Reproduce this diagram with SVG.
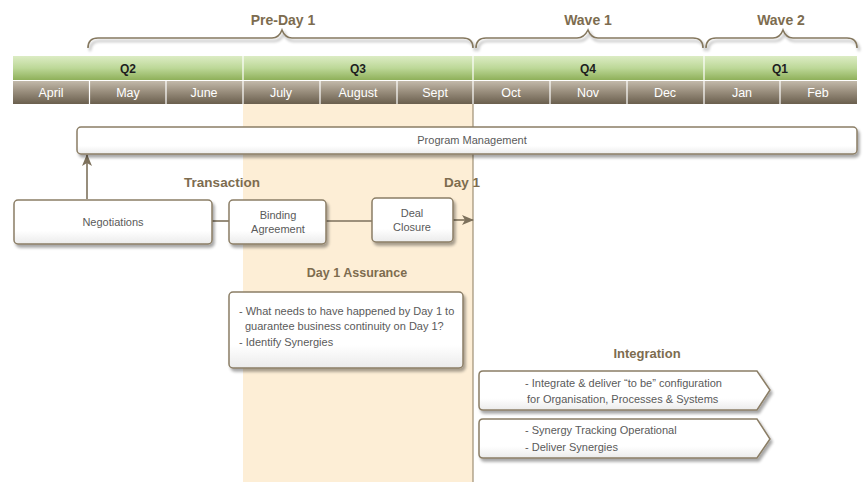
<svg xmlns="http://www.w3.org/2000/svg" width="867" height="483" viewBox="0 0 867 483">
<defs>
<linearGradient id="gGreen" x1="0" y1="0" x2="0" y2="1">
<stop offset="0" stop-color="#dcecc4"/><stop offset="0.5" stop-color="#bdd898"/><stop offset="1" stop-color="#8fb05a"/>
</linearGradient>
<linearGradient id="gMonth" x1="0" y1="0" x2="0" y2="1">
<stop offset="0" stop-color="#c2b9aa"/><stop offset="0.45" stop-color="#9a8f7e"/><stop offset="1" stop-color="#6a5f4e"/>
</linearGradient>
<linearGradient id="gBox" x1="0" y1="0" x2="0" y2="1">
<stop offset="0" stop-color="#ffffff"/><stop offset="0.7" stop-color="#ffffff"/><stop offset="1" stop-color="#ebebeb"/>
</linearGradient>
<filter id="sh" x="-10%" y="-30%" width="120%" height="160%">
<feGaussianBlur in="SourceAlpha" stdDeviation="1.6"/>
<feOffset dx="2" dy="2.5" result="b"/>
<feComponentTransfer><feFuncA type="linear" slope="0.35"/></feComponentTransfer>
<feMerge><feMergeNode/><feMergeNode in="SourceGraphic"/></feMerge>
</filter>
<marker id="arr" viewBox="0 0 12 10" refX="11" refY="5" markerWidth="12" markerHeight="10" markerUnits="userSpaceOnUse" orient="auto">
<path d="M0,0 L12,5 L0,10 L3,5 Z" fill="#7d715c"/>
</marker>
<style>
.lbl{font-family:"Liberation Sans",Arial,sans-serif;font-weight:bold;fill:#7d6c4f;text-anchor:middle}
.q{font-family:"Liberation Sans",Arial,sans-serif;font-weight:bold;font-size:12px;fill:#1e1e1e;text-anchor:middle}
.m{font-family:"Liberation Sans",Arial,sans-serif;font-size:12.5px;fill:#ffffff;text-anchor:middle}
.box{fill:url(#gBox);stroke:#8b7e66;stroke-width:1.5}
.t{font-family:"Liberation Sans",Arial,sans-serif;font-size:11px;fill:#5a5a5a}
.tc{text-anchor:middle}
.brace{fill:none;stroke:#85785f;stroke-width:1.6}
.conn{fill:none;stroke:#7d715c;stroke-width:1.6}
</style>
</defs>
<rect x="0" y="0" width="867" height="483" fill="#ffffff"/>

<!-- Day 1 column -->
<rect x="243" y="104" width="230" height="378" fill="#fdeed6"/>
<line x1="473" y1="104" x2="473" y2="482" stroke="#9e8f74" stroke-width="1.2"/>

<!-- Braces -->
<g id="braces" filter="url(#sh)">
<path class="brace" d="M88,48 Q88,38 98,38 L272,38 Q279,38 282,30 Q285,38 292,38 L463,38 Q473,38 473,48"/>
<path class="brace" d="M476,48 Q476,38 486,38 L577,38 Q584,38 588,30 Q591,38 598,38 L693,38 Q703,38 703,48"/>
<path class="brace" d="M706,48 Q706,38 716,38 L773,38 Q780,38 783,30 Q786,38 793,38 L847,38 Q857,38 857,48"/>
</g>
<text class="lbl" x="283" y="25" font-size="14">Pre-Day 1</text>
<text class="lbl" x="588" y="25" font-size="14">Wave 1</text>
<text class="lbl" x="781" y="25" font-size="14">Wave 2</text>

<!-- Timeline -->
<g id="quarters">
<rect x="13" y="56" width="844" height="24" fill="url(#gGreen)"/>
<g stroke="#ffffff" stroke-width="1.2">
<line x1="243" y1="56" x2="243" y2="80"/><line x1="473" y1="56" x2="473" y2="80"/><line x1="704" y1="56" x2="704" y2="80"/>
</g>
<text class="q" x="128" y="73">Q2</text>
<text class="q" x="358" y="73">Q3</text>
<text class="q" x="588" y="73">Q4</text>
<text class="q" x="780" y="73">Q1</text>
</g>
<g id="months">
<rect x="13" y="81" width="844" height="23" fill="url(#gMonth)"/>
<g stroke="#ffffff" stroke-width="1.2">
<line x1="89.5" y1="81" x2="89.5" y2="104"/><line x1="166" y1="81" x2="166" y2="104"/><line x1="243" y1="81" x2="243" y2="104"/>
<line x1="320" y1="81" x2="320" y2="104"/><line x1="397" y1="81" x2="397" y2="104"/><line x1="473" y1="81" x2="473" y2="104"/>
<line x1="550" y1="81" x2="550" y2="104"/><line x1="627" y1="81" x2="627" y2="104"/><line x1="704" y1="81" x2="704" y2="104"/>
<line x1="780" y1="81" x2="780" y2="104"/>
</g>
<text class="m" x="51" y="97">April</text>
<text class="m" x="128" y="97">May</text>
<text class="m" x="204" y="97">June</text>
<text class="m" x="281" y="97">July</text>
<text class="m" x="358" y="97">August</text>
<text class="m" x="435" y="97">Sept</text>
<text class="m" x="511" y="97">Oct</text>
<text class="m" x="588" y="97">Nov</text>
<text class="m" x="665" y="97">Dec</text>
<text class="m" x="742" y="97">Jan</text>
<text class="m" x="818" y="97">Feb</text>
</g>

<!-- Connectors -->
<g id="connectors">
<line class="conn" x1="87" y1="199" x2="87" y2="155" marker-end="url(#arr)"/>
<line class="conn" x1="212" y1="221" x2="229" y2="221"/>
<line class="conn" x1="326" y1="221" x2="372" y2="221"/>
<line class="conn" x1="453" y1="220" x2="473" y2="220" marker-end="url(#arr)"/>
</g>

<g id="program-management">
<rect class="box" x="77" y="127" width="780" height="27" rx="4" filter="url(#sh)"/>
<text class="t tc" x="472" y="144">Program Management</text>
</g>

<text class="lbl" x="222" y="187" font-size="13.5">Transaction</text>
<text class="lbl" x="462" y="187" font-size="13.5">Day 1</text>

<g id="negotiations">
<rect class="box" x="14" y="200" width="198" height="44" rx="4" filter="url(#sh)"/>
<text class="t tc" x="113" y="226">Negotiations</text>
</g>
<g id="binding-agreement">
<rect class="box" x="229" y="200" width="97" height="44" rx="4" filter="url(#sh)"/>
<text class="t tc" x="278" y="219">Binding</text>
<text class="t tc" x="278" y="233">Agreement</text>
</g>
<g id="deal-closure">
<rect class="box" x="372" y="198" width="81" height="44" rx="4" filter="url(#sh)"/>
<text class="t tc" x="412" y="217">Deal</text>
<text class="t tc" x="412" y="231">Closure</text>
</g>

<text class="lbl" x="357" y="277" font-size="12.5">Day 1 Assurance</text>
<g id="day1-assurance">
<rect class="box" x="229" y="292" width="234" height="76" rx="4" filter="url(#sh)"/>
<text class="t" x="239" y="315" font-size="10.5">- What needs to have happened by Day 1 to</text>
<text class="t" x="245" y="330" font-size="10.5">guarantee business continuity on Day 1?</text>
<text class="t" x="239" y="346" font-size="10.5">- Identify Synergies</text>
</g>

<text class="lbl" x="647" y="358" font-size="13">Integration</text>
<g id="integration-1">
<path class="box" d="M483,371 L757,371 L770,390 L757,410 L483,410 Q479,410 479,406 L479,375 Q479,371 483,371 Z" filter="url(#sh)"/>
<text class="t" x="525" y="387" font-size="10.5">- Integrate &amp; deliver “to be” configuration</text>
<text class="t" x="527" y="403" font-size="10.5">for Organisation, Processes &amp; Systems</text>
</g>
<g id="integration-2">
<path class="box" d="M483,419 L757,419 L770,439 L757,458 L483,458 Q479,458 479,454 L479,423 Q479,419 483,419 Z" filter="url(#sh)"/>
<text class="t" x="525" y="434" font-size="10.5">- Synergy Tracking Operational</text>
<text class="t" x="525" y="451" font-size="10.5">- Deliver Synergies</text>
</g>
</svg>
